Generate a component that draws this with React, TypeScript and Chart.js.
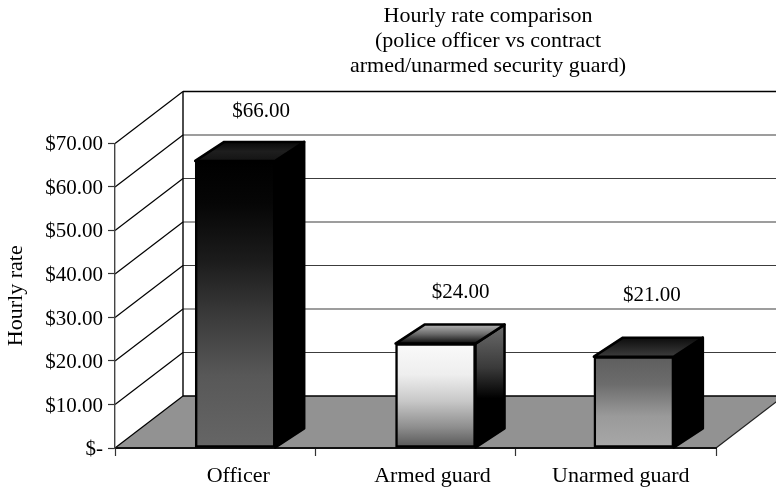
import React, { useEffect, useRef } from "react";
import { Chart, registerables } from "chart.js";

Chart.register(...registerables);

// Chart content
const titleLines = ["Hourly rate comparison", "(police officer vs contract", "armed/unarmed security guard)"];
const categories = ["Officer", "Armed guard", "Unarmed guard"];
const hourlyRates = [66, 24, 21];
const yAxisTitle = "Hourly rate";

// Position of each bar and category label along the x scale (one unit per category slot)
const barSlots = [0.6, 1.6, 2.59];
const labelSlots = [0.615, 1.585, 2.525];
const slotEdges = [0, 1, 2, 3];

// Drawing style
const FONT = "'Liberation Serif', serif";
const TEXT_SIZE = 22;
const NUMBER_SIZE = 21;
const WALL_DX = 68;
const WALL_DY = -52;
const BAR_DX = 29;
const BAR_DY = -19;
const BAR_EDGE = 2.5;

type Stops = [number, string][];
const frontStops: Stops[] = [
  [[0, "#000000"], [0.15, "#060606"], [0.35, "#1c1c1c"], [0.55, "#3c3c3c"], [0.75, "#585858"], [1, "#666666"]],
  [[0, "#fafafa"], [0.3, "#eeeeee"], [0.55, "#c8c8c8"], [0.8, "#8e8e8e"], [1, "#555555"]],
  [[0, "#5e5e5e"], [0.3, "#6c6c6c"], [0.65, "#9a9a9a"], [1, "#a8a8a8"]],
];
const sideStops: Stops[] = [
  [[0, "#000000"], [1, "#000000"]],
  [[0, "#6c6c6c"], [0.35, "#3a3a3a"], [0.6, "#000000"], [1, "#000000"]],
  [[0, "#000000"], [1, "#000000"]],
];
const topStops: Stops[] = [
  [[0, "#141414"], [0.5, "#1e1e1e"], [1, "#080808"]],
  [[0, "#0a0a0a"], [0.5, "#6a6a6a"], [1, "#b4b4b4"]],
  [[0, "#3c3c3c"], [1, "#0c0c0c"]],
];
const valueLabelOffsets = [
  { dx: 26, dy: -49 },
  { dx: 25, dy: -51 },
  { dx: 18, dy: -61 },
];

const money = (v: number) => `$${v.toFixed(2)}`;

function gradient(ctx: CanvasRenderingContext2D, x0: number, y0: number, x1: number, y1: number, stops: Stops) {
  const g = ctx.createLinearGradient(x0, y0, x1, y1);
  stops.forEach(([p, c]) => g.addColorStop(p, c));
  return g;
}

// Back wall, side wall and floor of the 3D box, positioned from the chart's scales
const boxPlugin = {
  id: "box3d",
  beforeDraw(chart: any) {
    const { ctx, scales } = chart;
    const { x, y } = scales;
    const x0 = x.left;
    const x1 = x.right;
    const base = y.getPixelForValue(0);
    const ctxLine = (a: number, b: number, c: number, d: number, w: number, col: string) => {
      ctx.beginPath();
      ctx.moveTo(a, b);
      ctx.lineTo(c, d);
      ctx.lineWidth = w;
      ctx.strokeStyle = col;
      ctx.stroke();
    };
    ctx.save();
    // floor
    ctx.beginPath();
    ctx.moveTo(x0, base);
    ctx.lineTo(x0 + WALL_DX, base + WALL_DY);
    ctx.lineTo(x1 + WALL_DX, base + WALL_DY);
    ctx.lineTo(x1, base);
    ctx.closePath();
    ctx.fillStyle = "#929292";
    ctx.fill();
    // gridlines: diagonal on the side wall, horizontal on the back wall
    y.ticks.forEach((t: any) => {
      const py = y.getPixelForValue(t.value);
      const backY = py + WALL_DY;
      ctxLine(x0, py, x0 + WALL_DX, backY, 1.2, "#000000");
      const isEdge = t.value === 0 || t.value === 70;
      ctxLine(x0 + WALL_DX, backY, x1 + WALL_DX, backY, isEdge ? 1.6 : 1.2, isEdge ? "#000000" : "#3c3c3c");
    });
    // back wall corner and floor's right edge
    ctxLine(x0 + WALL_DX, base + WALL_DY, x0 + WALL_DX, y.getPixelForValue(70) + WALL_DY, 1.4, "#000000");
    ctxLine(x1, base, x1 + WALL_DX, base + WALL_DY, 1.2, "#222222");
    ctx.restore();
  },
  // Side and top faces of each bar, behind the front face the bar element draws
  beforeDatasetsDraw(chart: any) {
    const { ctx } = chart;
    const bars = chart.getDatasetMeta(0).data;
    ctx.save();
    bars.forEach((bar: any, i: number) => {
      const right = bar.x + bar.width / 2;
      const left = bar.x - bar.width / 2;
      const top = bar.y;
      const bottom = bar.base;
      ctx.lineJoin = "round";
      ctx.lineWidth = BAR_EDGE;
      ctx.strokeStyle = "#000000";
      // right side
      ctx.beginPath();
      ctx.moveTo(right, top);
      ctx.lineTo(right + BAR_DX, top + BAR_DY);
      ctx.lineTo(right + BAR_DX, bottom + BAR_DY);
      ctx.lineTo(right, bottom);
      ctx.closePath();
      ctx.fillStyle = gradient(ctx, 0, top + BAR_DY, 0, bottom, sideStops[i]);
      ctx.fill();
      ctx.stroke();
      // top
      ctx.beginPath();
      ctx.moveTo(left, top);
      ctx.lineTo(left + BAR_DX, top + BAR_DY);
      ctx.lineTo(right + BAR_DX, top + BAR_DY);
      ctx.lineTo(right, top);
      ctx.closePath();
      ctx.fillStyle = gradient(ctx, 0, top, 0, top + BAR_DY, topStops[i]);
      ctx.fill();
      ctx.stroke();
    });
    ctx.restore();
  },
  // Value captions above the bars
  afterDatasetsDraw(chart: any) {
    const { ctx } = chart;
    const bars = chart.getDatasetMeta(0).data;
    ctx.save();
    ctx.font = `${NUMBER_SIZE}px ${FONT}`;
    ctx.fillStyle = "#000000";
    ctx.textAlign = "center";
    ctx.textBaseline = "middle";
    bars.forEach((bar: any, i: number) => {
      const o = valueLabelOffsets[i];
      ctx.fillText(money(hourlyRates[i]), bar.x + o.dx, bar.y + o.dy);
    });
    ctx.restore();
  },
  // Centre the title block over the back wall rather than over the canvas
  afterLayout(chart: any) {
    const t = chart.titleBlock;
    if (t) {
      t.left = 288;
      t.right = 688;
    }
  },
};

export default function App() {
  const ref = useRef<HTMLCanvasElement>(null);
  useEffect(() => {
    const chart = new Chart(ref.current!, {
      type: "bar",
      data: {
        labels: categories,
        datasets: [
          {
            label: yAxisTitle,
            data: hourlyRates.map((y, i) => ({ x: barSlots[i], y })),
            barThickness: 80,
            borderWidth: BAR_EDGE,
            borderColor: "#000000",
            borderSkipped: false,
            clip: false,
            backgroundColor: (c: any) => {
              const y = c.chart.scales.y;
              const top = y?.getPixelForValue(hourlyRates[c.dataIndex]);
              const bottom = y?.getPixelForValue(0);
              // The scale has no pixel range until the first layout has run
              if (!Number.isFinite(top) || !Number.isFinite(bottom)) return "#000000";
              return gradient(c.chart.ctx, 0, top, 0, bottom, frontStops[c.dataIndex]);
            },
          } as any,
        ],
      },
      options: {
        responsive: false,
        animation: false,
        layout: { padding: { left: 0, right: 60, top: 0, bottom: 0 } },
        plugins: {
          legend: { display: false },
          tooltip: { enabled: false },
          title: {
            display: true,
            text: titleLines,
            color: "#000000",
            font: { family: FONT, size: TEXT_SIZE, weight: "normal", lineHeight: 1.136 },
            padding: { top: 3.5, bottom: 65 },
          },
        },
        scales: {
          x: {
            type: "linear",
            min: 0,
            max: 3,
            offset: false,
            afterBuildTicks: (s: any) => {
              s.ticks = [...slotEdges, ...labelSlots].sort((a, b) => a - b).map((value) => ({ value }));
            },
            afterFit: (s: any) => {
              s.height = 40;
            },
            grid: {
              offset: false,
              drawOnChartArea: false,
              tickLength: 8,
              tickWidth: 1.2,
              tickColor: (c: any) => (slotEdges.includes(c.tick?.value) ? "#333333" : "rgba(0,0,0,0)"),
            },
            border: { color: "#111111", width: 2 },
            ticks: {
              autoSkip: false,
              maxRotation: 0,
              minRotation: 0,
              padding: 7,
              color: "#000000",
              font: { family: FONT, size: TEXT_SIZE },
              callback: (v: any) => {
                const i = labelSlots.indexOf(Number(v));
                return i >= 0 ? categories[i] : "";
              },
            },
          },
          y: {
            min: 0,
            max: 70,
            afterFit: (s: any) => {
              s.width = 115;
            },
            title: {
              display: true,
              text: yAxisTitle,
              color: "#000000",
              font: { family: FONT, size: TEXT_SIZE, weight: "normal" },
              padding: { top: 3, bottom: 0 },
            },
            grid: { drawOnChartArea: false, tickLength: 7, tickWidth: 1.2, tickColor: "#333333" },
            border: { color: "#444444", width: 1.4 },
            ticks: {
              stepSize: 10,
              padding: 5,
              labelOffset: 1.5,
              color: "#000000",
              font: { family: FONT, size: NUMBER_SIZE },
              callback: (v: any) => (Number(v) === 0 ? "$-" : money(Number(v))),
            },
          },
        },
      },
      plugins: [boxPlugin],
    } as any);
    return () => chart.destroy();
  }, []);
  return (
    <div style={{ position: "fixed", left: 0, top: 0, width: 776, height: 488, overflow: "hidden", background: "#ffffff" }}>
      <canvas ref={ref} width={776} height={488} style={{ display: "block" }} />
    </div>
  );
}
